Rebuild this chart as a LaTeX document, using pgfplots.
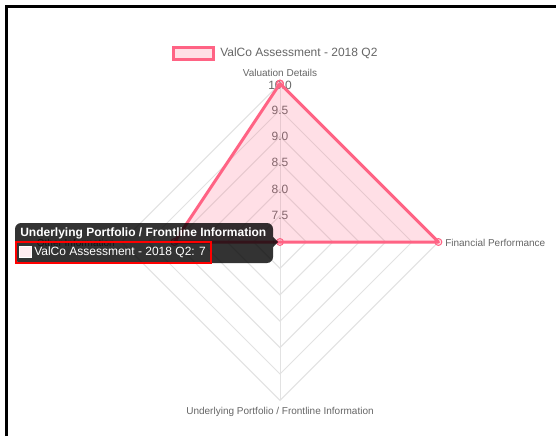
\documentclass[border=0pt]{standalone}
\usepackage{pgfplots}
\usepackage{pgfplotstable}
\pgfplotsset{compat=1.18}
\usepackage{fontspec}
\setmainfont{Liberation Sans}
\definecolor{cred}{RGB}{255,99,132}
\definecolor{cgrid}{RGB}{226,226,226}
\definecolor{ctext}{RGB}{102,102,102}
\newcommand{\twelve}{\fontsize{9}{10.8}\selectfont}
\newcommand{\ten}{\fontsize{7.5}{9}\selectfont}

% angle (deg), score
\pgfplotstableread{
a v
90 10
0 10
-90 7
180 9
90 10
}\radardata

\begin{document}
\begin{tikzpicture}
\begin{axis}[
  x=0.75pt, y=0.75pt,
  xmin=-280, xmax=276, ymin=-194, ymax=242,
  hide axis, clip=false,
]
% background
\fill[white] (axis cs:-280,-194) rectangle (axis cs:276,242);
% grid diamonds
\pgfplotsinvokeforeach{1,2,3,4,5,6}{
  \draw[cgrid, line width=0.75pt] (axis cs:0,#1*26.4) -- (axis cs:#1*26.4,0) -- (axis cs:0,-#1*26.4) -- (axis cs:-#1*26.4,0) -- cycle;
}
% spokes
\draw[cgrid, line width=0.75pt] (axis cs:0,158.4) -- (axis cs:0,-158.4);
\draw[cgrid, line width=0.75pt] (axis cs:-158.4,0) -- (axis cs:158.4,0);
% tick labels
\node[ctext, font=\twelve] at (axis cs:0,26.4) {7.5};
\node[ctext, font=\twelve] at (axis cs:0,52.8) {8.0};
\node[ctext, font=\twelve] at (axis cs:0,79.2) {8.5};
\node[ctext, font=\twelve] at (axis cs:0,105.6) {9.0};
\node[ctext, font=\twelve] at (axis cs:0,132.0) {9.5};
\node[ctext, font=\twelve] at (axis cs:0,156.5) {10.0};
% point labels
\node[ctext, font=\ten] at (axis cs:0,169) {Valuation Details};
\node[ctext, font=\ten, anchor=west, inner sep=0pt] at (axis cs:165,-1) {Financial Performance};
\node[ctext, font=\ten] at (axis cs:0,-170) {Underlying Portfolio / Frontline Information};
\node[ctext, font=\ten, anchor=east, inner sep=0pt] at (axis cs:-165,-1) {Other Information};

% data
\addplot[draw=cred, line width=2.25pt, line join=round, fill=cred, fill opacity=0.2, draw opacity=1,
  mark=*, mark size=2.6pt, mark options={line width=0.75pt, draw=cred, fill=cred, fill opacity=0.2}]
  table[x expr={(\thisrow{v}-7)*52.8*cos(\thisrow{a})}, y expr={(\thisrow{v}-7)*52.8*sin(\thisrow{a})}] {\radardata};

% legend
\draw[cred, line width=2.25pt, fill=cred!20] (axis cs:-107,194) rectangle (axis cs:-67,182);
\node[ctext, font=\twelve, anchor=west, inner sep=0pt] at (axis cs:-60,188.5) {ValCo Assessment - 2018 Q2};

% anchor points for the tooltip (drawn on top after the axis)
\coordinate (ttA) at (axis cs:-265,19);
\coordinate (ttB) at (axis cs:-7,-21);
\coordinate (cr1) at (axis cs:-7,5);
\coordinate (cr2) at (axis cs:-2,0);
\coordinate (cr3) at (axis cs:-7,-5);
\coordinate (ttT) at (axis cs:-260,8.5);
\coordinate (bx1) at (axis cs:-261,-4);
\coordinate (bx2) at (axis cs:-248,-16);
\coordinate (bx3) at (axis cs:-260,-5);
\coordinate (bx4) at (axis cs:-249,-15);
\coordinate (ttL) at (axis cs:-246,-10);
\coordinate (an1) at (axis cs:-264,0);
\coordinate (an2) at (axis cs:-69,-21);
\coordinate (fr1) at (axis cs:-273.5,-194);
\coordinate (fr2) at (axis cs:-273.5,235.5);
\coordinate (fr3) at (axis cs:276,235.5);
\end{axis}
% tooltip
\fill[black, opacity=0.8, rounded corners=4.5pt] (ttA) rectangle (ttB);
\fill[black, opacity=0.8] (cr1) -- (cr2) -- (cr3) -- cycle;
\node[white, font=\twelve\bfseries, anchor=west, inner sep=0pt] at (ttT) {Underlying Portfolio / Frontline Information};
\fill[white] (bx1) rectangle (bx2);
\fill[cred!12] (bx3) rectangle (bx4);
\node[white, font=\twelve, anchor=west, inner sep=0pt] at (ttL) {ValCo Assessment - 2018 Q2: 7};
% annotation box
\draw[red, line width=1.6pt] (an1) rectangle (an2);
% frame
\draw[black, line width=2.25pt] (fr1) -- (fr2) -- (fr3);
\pgfresetboundingbox
\useasboundingbox (current axis.south west) rectangle (current axis.north east);
\end{tikzpicture}
\end{document}
